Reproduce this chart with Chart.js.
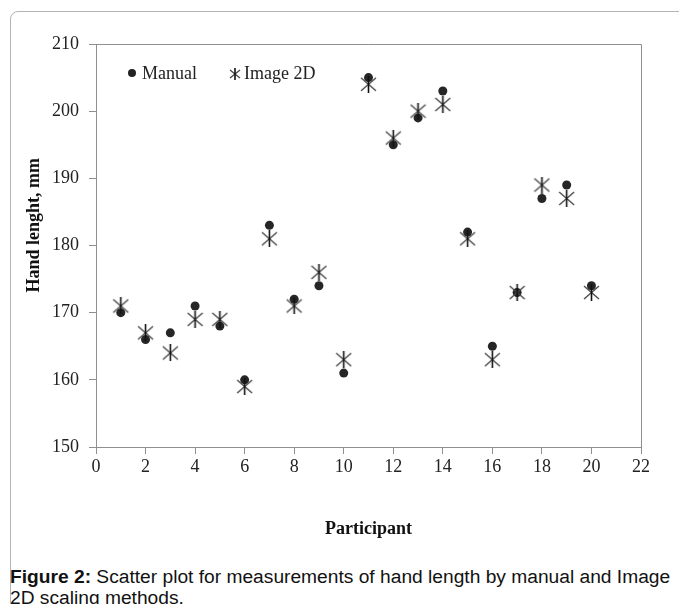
<!DOCTYPE html>
<html>
<head>
<meta charset="utf-8">
<script src="https://cdn.jsdelivr.net/npm/chart.js@4.4.1/dist/chart.umd.min.js"></script>
<style>
  body { margin: 0; background: #fff; width: 679px; height: 604px; overflow: hidden; position: relative; }
  #marco { position: absolute; left: 10px; top: 11px; width: 720px; height: 700px; border: 1px solid #b4b4b4; border-radius: 8px; }
  #grafica { position: absolute; left: 0; top: 0; }
  #pie { position: absolute; left: 10px; top: 566px; width: 669px; font-family: "Liberation Sans", Arial, sans-serif; font-size: 19.2px; line-height: 21px; color: #111; }
</style>
</head>
<body>
<div id="marco"></div>
<canvas id="grafica" width="679" height="545"></canvas>
<div id="pie"><b>Figure 2:</b> Scatter plot for measurements of hand length by manual and Image 2D scaling methods.</div>
<script>
// datos
const participantes = [1, 2, 3, 4, 5, 6, 7, 8, 9, 10, 11, 12, 13, 14, 15, 16, 17, 18, 19, 20];
const manual = [170, 166, 167, 171, 168, 160, 183, 172, 174, 161, 205, 195, 199, 203, 182, 165, 173, 187, 189, 174];
const imagen2D = [171, 167, 164, 169, 169, 159, 181, 171, 176, 163, 204, 196, 200, 201, 181, 163, 173, 189, 187, 173];
const ticksX = [0, 2, 4, 6, 8, 10, 12, 14, 16, 18, 20, 22];
const ticksY = [150, 160, 170, 180, 190, 200, 210];

// marcador tipo asterisco (X con línea vertical)
function asterisco(t) {
  const c = document.createElement("canvas");
  c.width = t; c.height = t;
  const ctx = c.getContext("2d");
  const m = t / 2, a = 1;
  ctx.lineWidth = 1.4;
  ctx.strokeStyle = "#4a4a4a";
  ctx.beginPath();
  ctx.moveTo(a, a + 1); ctx.lineTo(t - a, t - a - 1);
  ctx.moveTo(t - a, a + 1); ctx.lineTo(a, t - a - 1);
  ctx.stroke();
  ctx.strokeStyle = "#111";
  ctx.lineWidth = 1.6;
  ctx.beginPath();
  ctx.moveTo(m, 0); ctx.lineTo(m, t);
  ctx.stroke();
  return c;
}
const marcaGrande = asterisco(17);
const marcaChica = asterisco(12);

const serif = "'Liberation Serif', 'Times New Roman', serif";
const gris = "#8f8f8f";

// borde superior y derecho del área + leyenda dentro
const extras = {
  id: "extras",
  afterDraw(chart) {
    const { ctx, chartArea: a } = chart;
    ctx.save();
    ctx.strokeStyle = gris;
    ctx.lineWidth = 1;
    ctx.beginPath();
    ctx.moveTo(a.left, a.top + 0.5);
    ctx.lineTo(a.right + 0.5, a.top + 0.5);
    ctx.lineTo(a.right + 0.5, a.bottom);
    ctx.stroke();

    const y = a.top + 29;
    ctx.font = "18px " + serif;
    ctx.fillStyle = "#222";
    ctx.textBaseline = "middle";
    ctx.beginPath();
    ctx.arc(a.left + 36, y, 4, 0, Math.PI * 2);
    ctx.fill();
    ctx.fillText(chart.data.datasets[0].label, a.left + 46, y + 1);
    ctx.drawImage(marcaChica, a.left + 133, y - 5);
    ctx.fillText(chart.data.datasets[1].label, a.left + 148, y + 1);
    ctx.restore();
  }
};

new Chart(document.getElementById("grafica"), {
  type: "scatter",
  data: {
    datasets: [
      {
        label: "Manual",
        data: participantes.map((p, i) => ({ x: p, y: manual[i] })),
        pointStyle: "circle",
        pointRadius: 4.5,
        backgroundColor: "#262626",
        borderColor: "#262626",
        borderWidth: 0,
        order: 2
      },
      {
        label: "Image 2D",
        data: participantes.map((p, i) => ({ x: p, y: imagen2D[i] })),
        pointStyle: marcaGrande,
        order: 1
      }
    ]
  },
  options: {
    responsive: false,
    animation: false,
    events: [],
    layout: { padding: { left: 24, top: 44, right: 38, bottom: 0 } },
    scales: {
      x: {
        type: "linear",
        min: 0,
        max: 22,
        afterBuildTicks: (s) => { s.ticks = ticksX.map((v) => ({ value: v })); },
        afterFit: (s) => { s.height = 98; },
        grid: { drawOnChartArea: false, drawTicks: true, tickLength: 7, color: gris },
        border: { display: true, color: gris },
        ticks: { color: "#222", padding: 2, font: { family: serif, size: 18 } },
        title: { display: true, text: "Participant", color: "#111", font: { family: serif, size: 18, weight: "bold" }, padding: { top: 0, bottom: 5 } }
      },
      y: {
        type: "linear",
        min: 150,
        max: 210,
        afterBuildTicks: (s) => { s.ticks = ticksY.map((v) => ({ value: v })); },
        afterFit: (s) => { s.width = 72; },
        grid: { drawOnChartArea: false, drawTicks: true, tickLength: 7, color: gris },
        border: { display: true, color: gris },
        ticks: { color: "#222", padding: 10, font: { family: serif, size: 18 } },
        // espacios al inicio para subir el título como en la figura
        title: { display: true, text: "\u00A0".repeat(9) + "Hand lenght, mm", color: "#111", font: { family: serif, size: 18, weight: "bold" }, padding: 0 }
      }
    },
    plugins: {
      legend: { display: false },
      tooltip: { enabled: false }
    }
  },
  plugins: [extras]
});
</script>
</body>
</html>
